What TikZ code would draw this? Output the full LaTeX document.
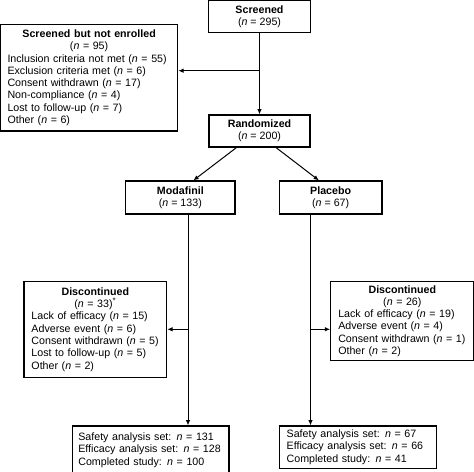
\documentclass[tikz,border=0pt]{standalone}
\usepackage{fontspec}
\setmainfont{Liberation Sans}
\usetikzlibrary{arrows.meta,calc}
\begin{document}
\begin{tikzpicture}[x=0.75pt,y=0.75pt,yscale=-1,xscale=1,
  box/.style={draw, line width=0.8pt, inner sep=0pt, font=\fontsize{8}{9.2}\selectfont},
  centrebox/.style={box, align=center},
  listbox/.style={box, align=left, inner xsep=#1},
  arr/.style={line width=0.75pt, -{Latex[length=4pt,width=3.4pt]}}]
\useasboundingbox (0,0) rectangle (474,471);
\clip (0,0) rectangle (474,471);

% Text Node
\node [centrebox, minimum width=76.5pt, minimum height=24.15pt] (screened) at (259.5,16.6) {\textbf{Screened}\\(\textit{n} = 295)};
% Text Node
\node [listbox=5.25pt, text width=122.4pt, minimum height=80pt] (notenrolled) at (89.1,77.65) {{\centering\textbf{Screened but not enrolled}\\(\textit{n} = 95)\par}
Inclusion criteria not met (\textit{n} = 55)\\
Exclusion criteria met (\textit{n} = 6)\\
Consent withdrawn (\textit{n} = 17)\\
Non-compliance (\textit{n} = 4)\\
Lost to follow-up (\textit{n} = 7)\\
Other (\textit{n} = 6)};
% Text Node
\node [centrebox, minimum width=75.75pt, minimum height=24pt] (randomized) at (259.5,131) {\textbf{Randomized}\\(\textit{n} = 200)};
% Text Node
\node [centrebox, minimum width=82pt, minimum height=24.75pt] (modafinil) at (180.35,197.5) {\textbf{Modafinil}\\(\textit{n} = 133)};
% Text Node
\node [centrebox, minimum width=77pt, minimum height=24.75pt] (placebo) at (330.65,197.5) {\textbf{Placebo}\\(\textit{n} = 67)};
% Text Node
\node [listbox=5.6pt, text width=95.8pt, minimum height=72pt] (discL) at (95.35,329.5) {{\centering\textbf{Discontinued}\\(\textit{n} = 33)\textsuperscript{*}\par}
Lack of efficacy (\textit{n} = 15)\\
Adverse event (\textit{n} = 6)\\
Consent withdrawn (\textit{n} = 5)\\
Lost to follow-up (\textit{n} = 5)\\
Other (\textit{n} = 2)};
% Text Node
\node [listbox=5.7pt, text width=96.1pt, minimum height=59.4pt] (discR) at (402.35,321.1) {{\centering\textbf{Discontinued}\\(\textit{n} = 26)\par}
Lack of efficacy (\textit{n} = 19)\\
Adverse event (\textit{n} = 4)\\
Consent withdrawn (\textit{n} = 1)\\
Other (\textit{n} = 2)};
% Text Node
\node [listbox=4.5pt, text width=108.5pt, minimum height=36pt] (safetyL) at (150.65,450) {Safety analysis set: \textit{n} = 131\\
Efficacy analysis set: \textit{n} = 128\\
Completed study: \textit{n} = 100};
% Text Node
\node [listbox=5.5pt, text width=107pt, minimum height=31.7pt] (safetyR) at (358,447.15) {Safety analysis set: \textit{n} = 67\\
Efficacy analysis set: \textit{n} = 66\\
Completed study: \textit{n} = 41};

%Straight Lines
\coordinate (branchS) at (259.5,70.7);
\coordinate (splitL) at (188,329.3);
\coordinate (splitR) at (310.5,329.3);
\draw [arr] (screened.south) -- (randomized.north);
\draw [arr] (branchS) -- (branchS -| notenrolled.east);
\draw [arr] ($(randomized.south)+(-23,0)$) -- ($(modafinil.north)+(13,0)$);
\draw [arr] ($(randomized.south)+(16.5,0)$) -- ($(placebo.north)+(-11.7,0)$);
\draw [arr] (modafinil.south -| splitL) -- (safetyL.north -| splitL);
\draw [arr] (splitL) -- (splitL -| discL.east);
\draw [arr] (placebo.south -| splitR) -- (safetyR.north -| splitR);
\draw [arr] (splitR) -- (splitR -| discR.west);
\end{tikzpicture}
\end{document}
